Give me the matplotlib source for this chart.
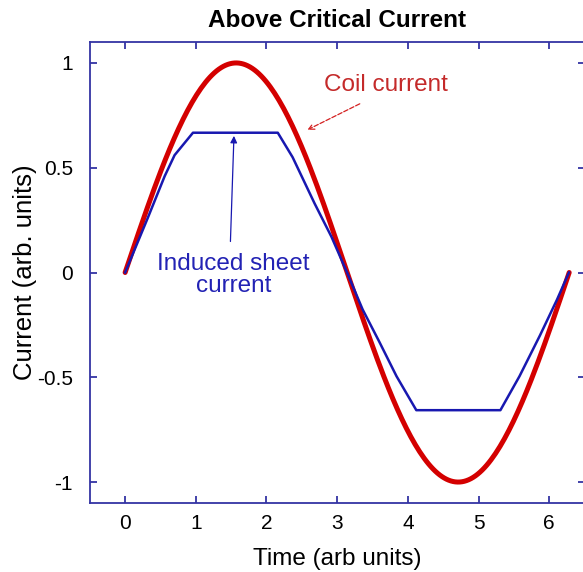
import numpy as np
import matplotlib
matplotlib.use("Agg")
import matplotlib.pyplot as plt

plt.rcParams['font.family'] = ['Liberation Sans', 'DejaVu Sans']
plt.rcParams['axes.unicode_minus'] = False

# coil current: one period of a sine
coil_x = np.linspace(0, 2 * np.pi, 200)
coil_y = np.sin(coil_x)

# induced sheet current
sheet_x = [0, 0.32, 0.56, 0.70, 0.96, 2.16, 2.37, 2.68, 2.92, 3.14,
           3.36, 3.60, 3.84, 4.12, 5.31, 5.58, 5.87, 6.11, 6.28]
sheet_y = [0, 0.26, 0.46, 0.56, 0.667, 0.667, 0.55, 0.33, 0.17, 0.0,
           -0.176, -0.333, -0.495, -0.657, -0.657, -0.495, -0.30, -0.13, 0.0]

xticks = [0, 1, 2, 3, 4, 5, 6]
yticks = [-1, -0.5, 0, 0.5, 1]
ytick_labels = ['-1', '-0.5', '0', '0.5', '1']

frame = '#3434a4'

fig = plt.figure(figsize=(5.83, 5.72), dpi=100)
ax = fig.add_axes([0.154, 0.1206, 0.8486, 0.806])

ax.plot(coil_x, coil_y, color='#d40000', lw=3.6, solid_capstyle='round', zorder=3)
ax.plot(sheet_x, sheet_y, color='#1818b0', lw=1.8, zorder=4)

ax.set_xlim(-0.5, 6.5)
ax.set_ylim(-1.1, 1.1)
ax.set_xticks(xticks)
ax.set_yticks(yticks)
ax.set_yticklabels(ytick_labels)

for s in ax.spines.values():
    s.set_color(frame)
    s.set_linewidth(1.3)
ax.tick_params(direction='in', length=5, width=1.3, color=frame,
               top=True, right=True, labelsize=15)
ax.tick_params(axis='y', pad=12)
ax.tick_params(axis='x', pad=8)

ax.set_title('Above Critical Current', fontsize=17.5, fontweight='bold', pad=11)
ax.set_xlabel('Time (arb units)', fontsize=17.5, labelpad=11)
ax.set_ylabel('Current (arb. units)', fontsize=18.5, labelpad=0)

# labels
ax.text(3.69, 0.895, 'Coil current', color='#c42a2a', fontsize=17.5,
        ha='center', va='center')
ax.text(1.53, -0.01, 'Induced sheet\ncurrent', color='#2222b4', fontsize=17.5,
        ha='center', va='center', linespacing=1.0)

# arrows
ax.annotate('', xy=(2.58, 0.681), xytext=(3.32, 0.805),
            arrowprops=dict(arrowstyle='->', color='#d42020', lw=0.9,
                            linestyle='--', shrinkA=0, shrinkB=0))
ax.annotate('', xy=(1.54, 0.652), xytext=(1.49, 0.148),
            arrowprops=dict(arrowstyle='-|>', color='#1818b0', lw=0.9,
                            shrinkA=0, shrinkB=0, mutation_scale=10))

fig.savefig('out.png', dpi=100)
